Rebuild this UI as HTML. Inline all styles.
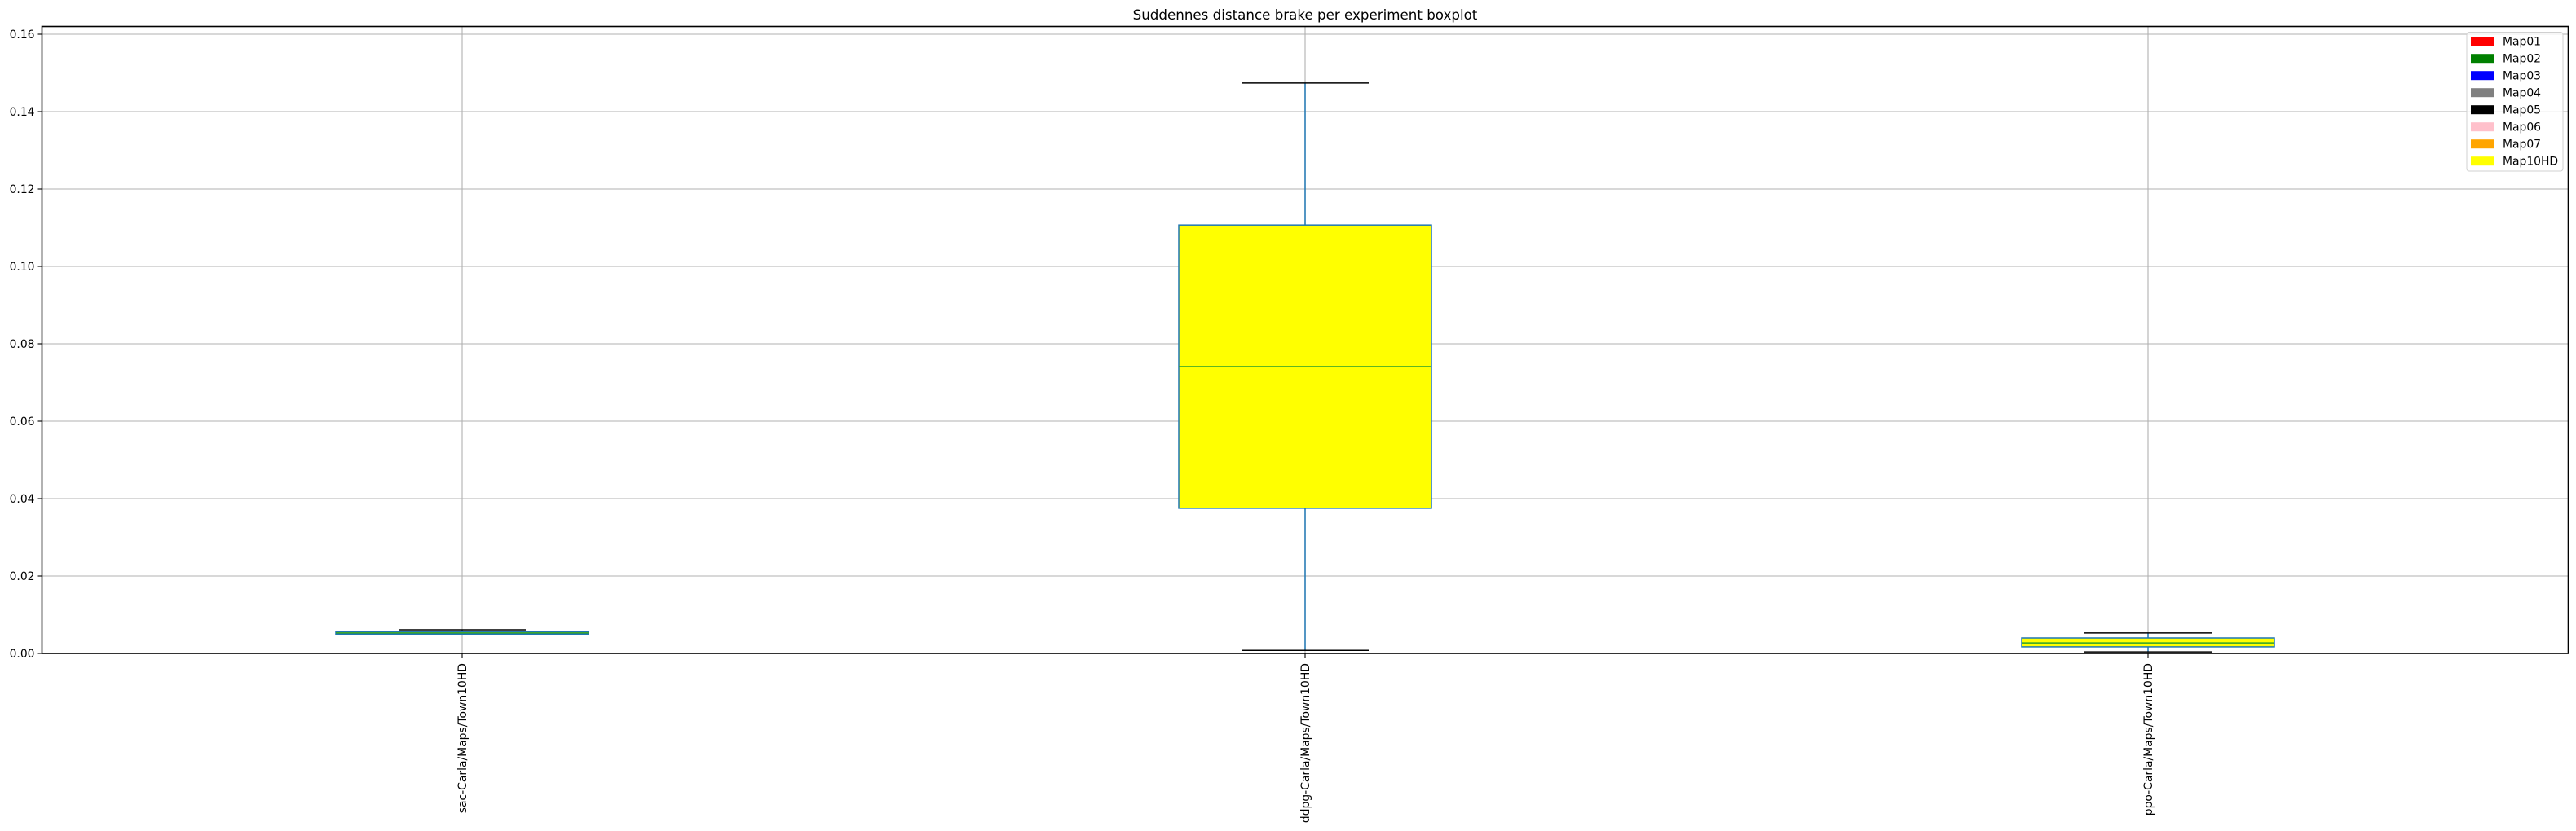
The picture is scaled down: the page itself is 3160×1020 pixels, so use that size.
<!DOCTYPE html>
<html><head><meta charset="utf-8"><style>
html,body{margin:0;padding:0;background:#fff;}
svg{display:block;font-family:"DejaVu Sans","Liberation Sans",sans-serif;}
</style></head><body>
<svg id="chart" width="3160" height="1020" viewBox="0 0 3160 1020" xmlns="http://www.w3.org/2000/svg">
<text x="1601" y="24" font-size="16.7" text-anchor="middle" fill="#000">Suddennes distance brake per experiment boxplot</text>
<g id="grid"></g>
<g id="boxes"></g>
<rect x="51.5" y="32.5" width="3099" height="769.5" fill="none" stroke="#000" stroke-width="1.6"/>
<g id="axes"></g>
<g id="legend"></g>
</svg>
<script>
const categories = ["sac-Carla/Maps/Town10HD","ddpg-Carla/Maps/Town10HD","ppo-Carla/Maps/Town10HD"];
const whiskerLow = [0.0048, 0.0008, 0.0004];
const q1Values = [0.0050, 0.0375, 0.0017];
const medianValues = [0.0053, 0.0741, 0.0027];
const q3Values = [0.0056, 0.1107, 0.0040];
const whiskerHigh = [0.0061, 0.1474, 0.0053];
const yTicks = [0, 0.02, 0.04, 0.06, 0.08, 0.10, 0.12, 0.14, 0.16];
const yTickLabels = ["0.00","0.02","0.04","0.06","0.08","0.10","0.12","0.14","0.16"];
const legendLabels = ["Map01","Map02","Map03","Map04","Map05","Map06","Map07","Map10HD"];
const legendColors = ["red","green","blue","gray","black","pink","orange","yellow"];

const NS = "http://www.w3.org/2000/svg";
const L = 51.5, R = 3151, T = 32.5, B = 802;
const y = v => B - v * 4750;
const x = i => 567 + i * 1034;
function mk(tag, attrs, parent){const e=document.createElementNS(NS,tag);for(const k in attrs)e.setAttribute(k,attrs[k]);parent.appendChild(e);return e;}
const grid=document.getElementById('grid'), boxes=document.getElementById('boxes'), axes=document.getElementById('axes'), legend=document.getElementById('legend');

yTicks.forEach((v,i)=>{
  const g = mk('line',{x1:L,x2:R,y1:y(v),y2:y(v),stroke:'#b0b0b0','stroke-width':1.1},grid);
  
  
  const t = mk('line',{x1:L-5,x2:L,y1:y(v),y2:y(v),stroke:'#000','stroke-width':1.1},axes);
  
  
  const tx = mk('text',{x:L-9,y:y(v)+5,'font-size':13.9,'text-anchor':'end',fill:'#000'},axes);
  tx.textContent = yTickLabels[i];
  
  
});
categories.forEach((c,i)=>{
  const cx = x(i);
  const g = mk('line',{x1:cx,x2:cx,y1:T,y2:B,stroke:'#b0b0b0','stroke-width':1.1},grid);
  
  
  const t = mk('line',{x1:cx,x2:cx,y1:B,y2:B+6,stroke:'#000','stroke-width':1.1},axes);
  
  
  const tx = mk('text',{x:0,y:0,'font-size':13.9,'text-anchor':'end',fill:'#000',transform:`translate(${cx+5},${B+12}) rotate(-90)`},axes);
  tx.textContent = c;
  
  

  const w1 = mk('line',{x1:cx,x2:cx,y1:y(whiskerLow[i]),y2:y(q1Values[i]),stroke:'#1f77b4','stroke-width':1.5},boxes);
  
  
  const w2 = mk('line',{x1:cx,x2:cx,y1:y(q3Values[i]),y2:y(whiskerHigh[i]),stroke:'#1f77b4','stroke-width':1.5},boxes);
  
  
  const c1 = mk('line',{x1:cx-78,x2:cx+78,y1:y(whiskerLow[i]),y2:y(whiskerLow[i]),stroke:'#000','stroke-width':1.5},boxes);
  
  
  const c2 = mk('line',{x1:cx-78,x2:cx+78,y1:y(whiskerHigh[i]),y2:y(whiskerHigh[i]),stroke:'#000','stroke-width':1.5},boxes);
  
  
  const top = y(q3Values[i]), bot = y(q1Values[i]);
  const b = mk('rect',{x:cx-155,y:top,width:310,height:Math.max(bot-top,1),fill:'yellow',stroke:'#1f77b4','stroke-width':1.5},boxes);
  
  
  const m = mk('line',{x1:cx-155,x2:cx+155,y1:y(medianValues[i]),y2:y(medianValues[i]),stroke:'#2ca02c','stroke-width':1.5},boxes);
  
  
});

const lb = mk('rect',{x:3026,y:39.5,width:118,height:170.5,rx:3,fill:'#fff','fill-opacity':0.8,stroke:'#d0d0d0','stroke-width':1},legend);


legendLabels.forEach((lab,i)=>{
  const cy = 50.7 + i*21;
  const p = mk('rect',{x:3031,y:cy-5.5,width:29,height:11,fill:legendColors[i]},legend);
  
  
  const t = mk('text',{x:3070,y:cy+5,'font-size':13.9,fill:'#000'},legend);
  t.textContent = lab;
  
  
});
</script>
</body></html>
